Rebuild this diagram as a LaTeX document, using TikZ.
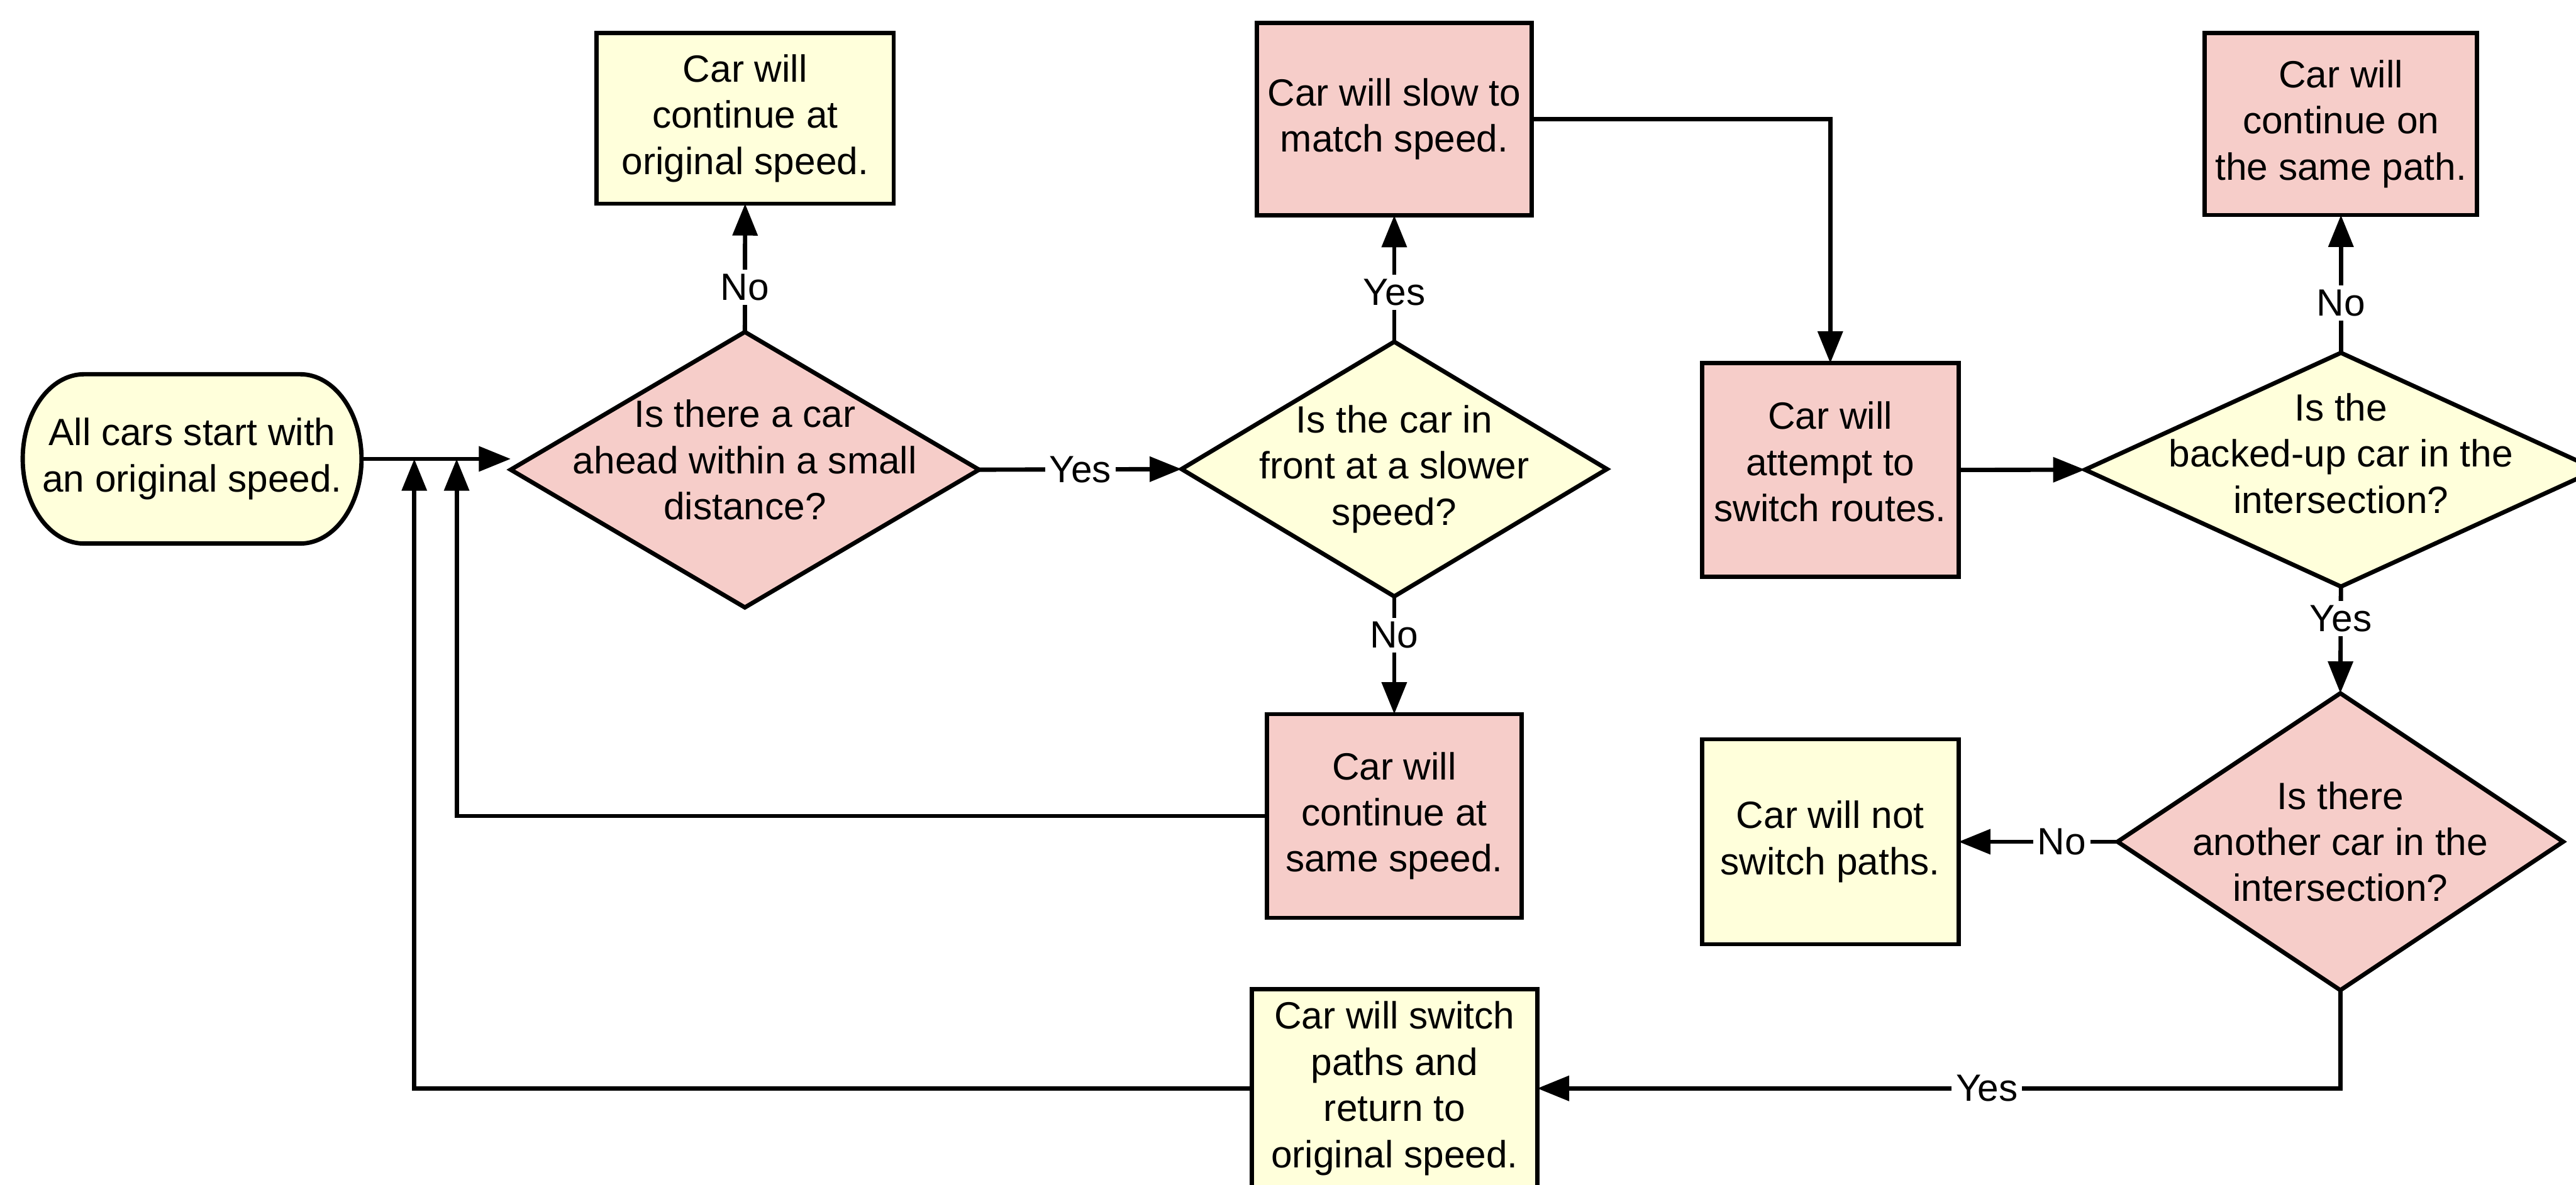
\documentclass[tikz,border=0pt]{standalone}
\usepackage{fontspec}
\setmainfont{Liberation Sans}
\usetikzlibrary{shapes.geometric, arrows.meta, backgrounds}
\definecolor{pinkfill}{HTML}{F6CDC9}
\definecolor{yellowfill}{HTML}{FFFFDB}

\begin{document}
\begin{tikzpicture}[font=\fontsize{8.8}{10.7}\selectfont, line width=1pt,
    procbox/.style={draw, rectangle, align=center, inner sep=0pt, outer sep=0pt},
    decision/.style={draw, diamond, align=center, inner sep=-1cm, outer sep=0pt},
    startbox/.style={align=center, inner sep=0pt, outer sep=0pt,
        minimum width=2.76cm, minimum height=1.38cm},
    flow/.style={-{Triangle[length=0.26cm, width=0.2cm]}},
    answer/.style={fill=white, inner sep=1pt}]
        \useasboundingbox (0, 0) rectangle (20.985, -9.655);
        \clip (0, 0) rectangle (20.985, -9.655);

        \node[startbox] (start) at (1.565, -3.74) {All cars start with\\an original speed.};
        \begin{scope}[on background layer]
            \fill[white] (0, 0) rectangle (20.985, -9.655);
            \draw[line width=1pt, fill=yellowfill] ([xshift=0.5cm]start.north west)
            -- ([xshift=-0.5cm]start.north east)
            arc[start angle=90, end angle=-90, x radius=0.5cm, y radius=0.69cm]
            -- ([xshift=0.5cm]start.south west)
            arc[start angle=270, end angle=90, x radius=0.5cm, y radius=0.69cm] -- cycle;
        \end{scope}

        \node[decision, fill=pinkfill, minimum width=3.815cm, minimum height=2.245cm, text depth=4.6pt]
            (carAhead) at (6.068, -3.828) {Is there a car\\ahead within a small\\distance?};
        \node[procbox, fill=yellowfill, minimum width=2.42cm, minimum height=1.39cm]
            (keepOrig) at (6.07, -0.965) {Car will\\continue at\\original speed.};
        \node[decision, fill=yellowfill, minimum width=3.465cm, minimum height=2.075cm]
            (slower) at (11.358, -3.823) {Is the car in\\front at a slower\\speed?};
        \node[procbox, fill=pinkfill, minimum width=2.235cm, minimum height=1.57cm]
            (slowDown) at (11.358, -0.97) {Car will slow to\\match speed.};
        \node[procbox, fill=pinkfill, minimum width=2.075cm, minimum height=1.66cm]
            (sameSpeed) at (11.358, -6.65) {Car will\\continue at\\same speed.};
        \node[procbox, fill=pinkfill, minimum width=2.09cm, minimum height=1.74cm, text depth=3.8pt]
            (attempt) at (14.91, -3.83) {Car will\\attempt to\\switch routes.};
        \node[decision, fill=yellowfill, minimum width=4.17cm, minimum height=1.905cm, text depth=7.6pt]
            (backedUp) at (19.07, -3.828) {Is the\\backed-up car in the\\intersection?};
        \node[procbox, fill=pinkfill, minimum width=2.22cm, minimum height=1.485cm]
            (samePath) at (19.07, -1.01) {Car will\\continue on\\the same path.};
        \node[decision, fill=pinkfill, minimum width=3.63cm, minimum height=2.42cm]
            (anotherCar) at (19.065, -6.86) {Is there\\another car in the\\intersection?};
        \node[procbox, fill=yellowfill, minimum width=2.09cm, minimum height=1.67cm]
            (noSwitch) at (14.91, -6.86) {Car will not\\switch paths.};
        \node[procbox, fill=yellowfill, minimum width=2.325cm, minimum height=1.62cm]
            (switchBack) at (11.36, -8.87) {Car will switch\\paths and\\return to\\original speed.};

        \coordinate (joinA) at (3.72, -3.74);
        \coordinate (joinB) at (3.375, -3.74);

        \draw[flow] (start.east) -- (start.east -| carAhead.west);
        \draw[flow] (carAhead.north) -- node[answer, pos=0.35] {No} (keepOrig.south);
        \draw[flow] (carAhead.east) -- node[answer] {Yes} (slower.west);
        \draw[flow] (slower.north) -- node[answer, pos=0.39] {Yes} (slowDown.south);
        \draw[flow] (slower.south) -- node[answer, pos=0.33] {No} (sameSpeed.north);
        \draw[flow] (sameSpeed.west) -| (joinA);
        \draw[flow] (slowDown.east) -| (attempt.north);
        \draw[flow] (attempt.east) -- (backedUp.west);
        \draw[flow] (backedUp.north) -- node[answer, pos=0.36] {No} (samePath.south);
        \draw[flow] (backedUp.south) -- node[answer, pos=0.3] {Yes} (anotherCar.north);
        \draw[flow] (anotherCar.west) -- node[answer, pos=0.35] {No} (noSwitch.east);
        \draw[flow] (anotherCar.south) |- node[answer, pos=0.72] {Yes} (switchBack.east);
        \draw[flow] (switchBack.west) -| (joinB);
    \end{tikzpicture}
\end{document}
